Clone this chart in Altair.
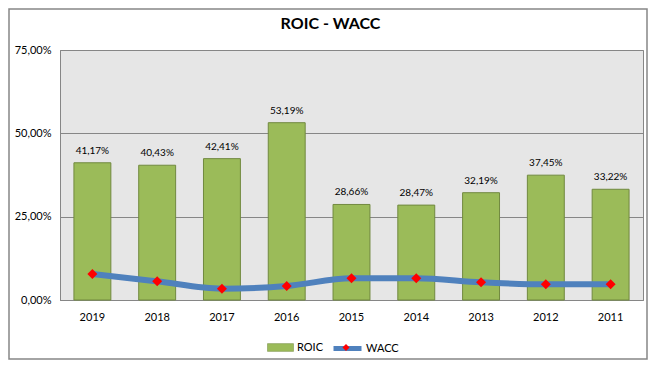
import altair as alt
import pandas as pd

years = ["2019", "2018", "2017", "2016", "2015", "2014", "2013", "2012", "2011"]
roic = [41.17, 40.43, 42.41, 53.19, 28.66, 28.47, 32.19, 37.45, 33.22]
wacc = [7.8, 5.6, 3.4, 4.2, 6.5, 6.5, 5.3, 4.7, 4.7]
y_ticks = [0, 25, 50, 75]

df = pd.DataFrame({"year": years, "roic": roic, "wacc": wacc,
                   "s1": "ROIC", "s2": "WACC", "s3": "marker"})

FONT = "Lato"
W, H = 583, 250
LEG_Y = 284

x = alt.X("year:N", sort=None, title=None,
          scale=alt.Scale(paddingInner=0.43, paddingOuter=0.215),
          axis=alt.Axis(labelAngle=0, ticks=False, labelPadding=11, labelFontSize=11,
                        labelColor="black", labelFont=FONT, domainColor="#868686"))
yscale = alt.Scale(domain=[0, 75], nice=False)

base = alt.Chart(df)

bars = base.mark_bar(stroke="#71893F", strokeWidth=1).encode(
    x=x,
    y=alt.Y("roic:Q", scale=yscale, title=None,
            axis=alt.Axis(values=y_ticks, ticks=False, labelPadding=9, labelFontSize=11,
                          labelColor="black", labelFont=FONT, domainColor="#868686",
                          gridColor="#868686", gridOpacity=1,
                          labelExpr="replace(format(datum.value, '.2f'), '.', ',') + '%'")),
    color=alt.Color("s1:N", scale=alt.Scale(domain=["ROIC"], range=["#9BBB59"]),
                    legend=alt.Legend(title=None, orient="none", legendX=207, legendY=LEG_Y,
                                      symbolType="M-1,-0.3H1V0.3H-1Z", symbolSize=676,
                                      symbolStrokeColor="#71893F", symbolStrokeWidth=0.5,
                                      labelFontSize=11, labelFont=FONT, labelColor="black",
                                      labelOffset=3, padding=0)),
)

labels = base.transform_calculate(
    lab="replace(format(datum.roic, '.2f'), '.', ',') + '%'"
).mark_text(baseline="bottom", dy=-7, fontSize=10, font=FONT, color="black").encode(
    x=x, y=alt.Y("roic:Q", scale=yscale), text="lab:N")

line = base.mark_line(strokeWidth=6, interpolate="monotone").encode(
    x=x, y=alt.Y("wacc:Q", scale=yscale),
    stroke=alt.Stroke("s2:N", scale=alt.Scale(domain=["WACC"], range=["#4F81BD"]),
                      legend=alt.Legend(title=None, orient="none", legendX=271, legendY=LEG_Y - 2,
                                        symbolType="M-1,0H1", symbolSize=784,
                                        symbolStrokeWidth=5,
                                        labelFontSize=11, labelFont=FONT, labelColor="black",
                                        labelOffset=2, padding=0)),
)

points = base.mark_point(shape="diamond", filled=True, size=100, opacity=1).encode(
    x=x, y=alt.Y("wacc:Q", scale=yscale),
    fill=alt.Fill("s3:N", scale=alt.Scale(domain=["marker"], range=["#FF0000"]),
                  legend=alt.Legend(title=None, orient="none", legendX=281.5, legendY=LEG_Y + 9,
                                    symbolType="diamond", symbolSize=50,
                                    labelExpr="''", labelFontSize=1, padding=0, zindex=5)),
)

frame = alt.Chart(pd.DataFrame({"a": [0]})).mark_rect(
    fill=None, stroke="#868686", strokeWidth=1.5
).encode(x=alt.value(-51), x2=alt.value(W + 4), y=alt.value(-41), y2=alt.value(H + 59))

chart = alt.layer(bars, labels, line, points, frame).properties(
    width=W, height=H,
    autosize=alt.AutoSizeParams(type="none"),
    padding={"left": 52, "top": 42, "right": 5, "bottom": 60},
    title=alt.Title("ROIC - WACC", font=FONT, fontSize=16, fontWeight="bold",
                    color="black", offset=-24, dx=-21, anchor="middle", frame="group"),
).configure_view(fill="#E6E6E6", stroke="#868686").configure_axis(grid=True).configure_axisX(grid=False)

chart.save("out.html", embed_options={"renderer": "svg", "actions": False})
